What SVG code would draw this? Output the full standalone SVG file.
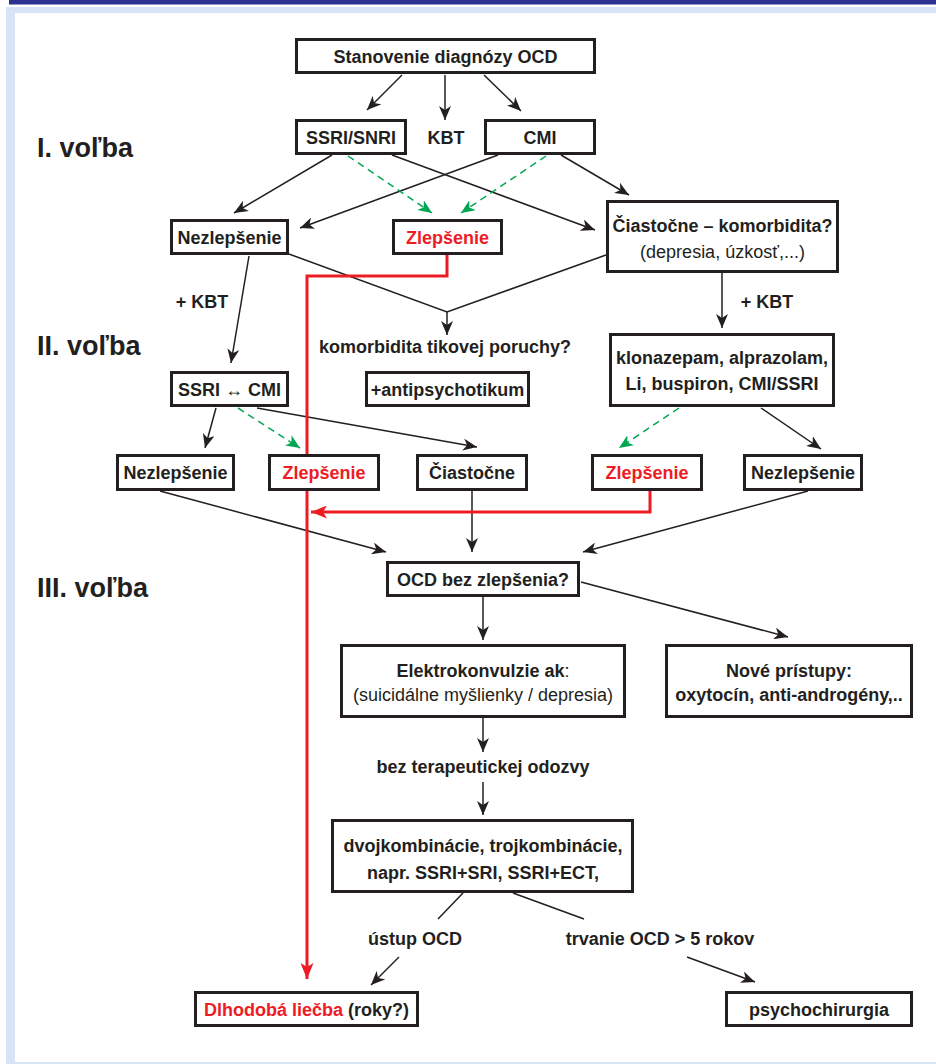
<svg xmlns="http://www.w3.org/2000/svg" width="936" height="1064" viewBox="0 0 936 1064">
<style>
.box{fill:#fff;stroke:#231f20;stroke-width:3}
.t{font-family:"Liberation Sans",Arial,sans-serif;font-size:18px;font-weight:bold;fill:#231f20;text-anchor:middle}
.rg{font-weight:normal}
.red{fill:#ed1c24}
.lvl{font-family:"Liberation Sans",Arial,sans-serif;font-size:27px;font-weight:bold;fill:#231f20}
.k{fill:none;stroke:#231f20;stroke-width:1.5}
.g{fill:none;stroke:#00a651;stroke-width:1.5;stroke-dasharray:7 5}
.r{fill:none;stroke:#ed1c24;stroke-width:3}
</style>
<defs>
<marker id="ak" markerUnits="userSpaceOnUse" markerWidth="15" markerHeight="12" refX="14" refY="6" orient="auto"><path d="M0,0 L14,6 L0,12 L4,6 Z" fill="#231f20"/></marker>
<marker id="ag" markerUnits="userSpaceOnUse" markerWidth="15" markerHeight="12" refX="14" refY="6" orient="auto"><path d="M0,0 L14,6 L0,12 L4,6 Z" fill="#00a651"/></marker>
<marker id="ar" markerUnits="userSpaceOnUse" markerWidth="17" markerHeight="13" refX="16" refY="6.5" orient="auto"><path d="M0,0 L16,6.5 L0,13 L4,6.5 Z" fill="#ed1c24"/></marker>
</defs>
<rect x="0" y="0" width="936" height="1064" fill="#fff"/>
<rect x="9" y="0" width="927" height="4.5" fill="#2e3192"/>
<rect x="6" y="7" width="930" height="1057" fill="#d6e4f5"/>
<rect x="15" y="13" width="921" height="1049" fill="#fff"/>

<text class="lvl" x="37" y="157">I. voľba</text>
<text class="lvl" x="37" y="355">II. voľba</text>
<text class="lvl" x="37" y="597">III. voľba</text>

<g id="connectors">
<line class="k" x1="402" y1="75" x2="367" y2="110" marker-end="url(#ak)"/>
<line class="k" x1="445" y1="75" x2="445" y2="120" marker-end="url(#ak)"/>
<line class="k" x1="484" y1="75" x2="521" y2="111" marker-end="url(#ak)"/>
<line class="k" x1="332" y1="155" x2="234" y2="213" marker-end="url(#ak)"/>
<line class="k" x1="498" y1="155" x2="300" y2="228" marker-end="url(#ak)"/>
<line class="k" x1="392" y1="155" x2="595" y2="230" marker-end="url(#ak)"/>
<line class="k" x1="561" y1="155" x2="629" y2="195" marker-end="url(#ak)"/>
<line class="g" x1="348" y1="156" x2="432" y2="213" marker-end="url(#ag)"/>
<line class="g" x1="546" y1="156" x2="461" y2="213" marker-end="url(#ag)"/>
<line class="k" x1="249" y1="256" x2="231" y2="363" marker-end="url(#ak)"/>
<line class="k" x1="722" y1="273" x2="722" y2="328" marker-end="url(#ak)"/>
<polyline class="k" points="289,254 447,312 606,255"/>
<line class="k" x1="447" y1="312" x2="447" y2="335" marker-end="url(#ak)"/>
<line class="k" x1="216" y1="408" x2="205" y2="448" marker-end="url(#ak)"/>
<line class="g" x1="238" y1="408" x2="300" y2="448" marker-end="url(#ag)"/>
<line class="k" x1="257" y1="408" x2="477" y2="447" marker-end="url(#ak)"/>
<line class="g" x1="679" y1="408" x2="619" y2="448" marker-end="url(#ag)"/>
<line class="k" x1="761" y1="408" x2="821" y2="449" marker-end="url(#ak)"/>
<line class="k" x1="160" y1="491" x2="386" y2="552" marker-end="url(#ak)"/>
<line class="k" x1="472" y1="491" x2="472" y2="552" marker-end="url(#ak)"/>
<line class="k" x1="808" y1="491" x2="583" y2="552" marker-end="url(#ak)"/>
<line class="k" x1="483" y1="597" x2="483" y2="640" marker-end="url(#ak)"/>
<line class="k" x1="581" y1="582" x2="788" y2="637" marker-end="url(#ak)"/>
<line class="k" x1="483" y1="718" x2="483" y2="752" marker-end="url(#ak)"/>
<line class="k" x1="483" y1="782" x2="483" y2="815" marker-end="url(#ak)"/>
<line class="k" x1="463" y1="893" x2="438" y2="919"/>
<line class="k" x1="513" y1="893" x2="584" y2="919"/>
<line class="k" x1="399" y1="957" x2="371" y2="985" marker-end="url(#ak)"/>
<line class="k" x1="687" y1="957" x2="755" y2="982" marker-end="url(#ak)"/>
<polyline class="r" points="447,255 447,276 307,276 307,979" marker-end="url(#ar)"/>
<polyline class="r" points="650,491 650,512 311,512" marker-end="url(#ar)"/>
</g>

<g id="n-diag"><rect class="box" x="296.5" y="39.5" width="298" height="33"/><text class="t" x="445.5" y="63">Stanovenie diagnózy OCD</text></g>
<g id="n-ssri"><rect class="box" x="296.5" y="120.5" width="109" height="33"/><text class="t" x="351" y="144">SSRI/SNRI</text></g>
<g id="n-kbt"><text class="t" x="446" y="144">KBT</text></g>
<g id="n-cmi"><rect class="box" x="485.5" y="120.5" width="109" height="33"/><text class="t" x="540" y="144">CMI</text></g>
<g id="n-nezl1"><rect class="box" x="171.5" y="220.5" width="116" height="33"/><text class="t" x="229.5" y="244">Nezlepšenie</text></g>
<g id="n-zl1"><rect class="box" x="393.5" y="220.5" width="108" height="33"/><text class="t red" x="447.5" y="244">Zlepšenie</text></g>
<g id="n-ciast1"><rect class="box" x="607.5" y="201.5" width="230" height="70"/><text class="t" x="722.5" y="232">Čiastočne – komorbidita?</text><text class="t rg" x="722.5" y="258">(depresia, úzkosť,...)</text></g>
<g id="n-kbt2"><text class="t" x="202" y="308">+ KBT</text></g>
<g id="n-kbt3"><text class="t" x="767" y="308">+ KBT</text></g>
<g id="n-tik"><text class="t" x="445" y="353">komorbidita tikovej poruchy?</text></g>
<g id="n-swap"><rect class="box" x="171.5" y="372.5" width="116" height="33"/><text class="t" x="229.5" y="396">SSRI ↔ CMI</text></g>
<g id="n-anti"><rect class="box" x="366.5" y="372.5" width="162" height="33"/><text class="t" x="447.5" y="396">+antipsychotikum</text></g>
<g id="n-klon"><rect class="box" x="610.5" y="334.5" width="223" height="71"/><text class="t" x="722" y="364">klonazepam, alprazolam,</text><text class="t" x="722" y="390">Li, buspiron, CMI/SSRI</text></g>
<g id="n-nezl2"><rect class="box" x="117.5" y="455.5" width="116" height="34"/><text class="t" x="175.5" y="479">Nezlepšenie</text></g>
<g id="n-zl2"><rect class="box" x="269.5" y="455.5" width="109" height="34"/><text class="t red" x="324" y="479">Zlepšenie</text></g>
<g id="n-ciast2"><rect class="box" x="417.5" y="455.5" width="109" height="34"/><text class="t" x="472" y="479">Čiastočne</text></g>
<g id="n-zl3"><rect class="box" x="592.5" y="455.5" width="109" height="34"/><text class="t red" x="647" y="479">Zlepšenie</text></g>
<g id="n-nezl3"><rect class="box" x="744.5" y="455.5" width="117" height="34"/><text class="t" x="803" y="479">Nezlepšenie</text></g>
<g id="n-ocd"><rect class="box" x="387.5" y="562.5" width="191" height="33"/><text class="t" x="483" y="586">OCD bez zlepšenia?</text></g>
<g id="n-ekt"><rect class="box" x="341.5" y="645.5" width="283" height="71"/><text class="t" x="483" y="677">Elektrokonvulzie ak<tspan class="rg">:</tspan></text><text class="t rg" x="483" y="701">(suicidálne myšlienky / depresia)</text></g>
<g id="n-nove"><rect class="box" x="666.5" y="645.5" width="245" height="71"/><text class="t" x="789" y="677">Nové prístupy:</text><text class="t" x="789" y="701">oxytocín, anti-androgény,..</text></g>
<g id="n-bez"><text class="t" x="483" y="773">bez terapeutickej odozvy</text></g>
<g id="n-dvoj"><rect class="box" x="332.5" y="820.5" width="300" height="71"/><text class="t" x="483" y="852">dvojkombinácie, trojkombinácie,</text><text class="t" x="483" y="879">napr. SSRI+SRI, SSRI+ECT,</text></g>
<g id="n-ustup"><text class="t" x="415" y="945">ústup OCD</text></g>
<g id="n-trv"><text class="t" x="660" y="945">trvanie OCD &gt; 5 rokov</text></g>
<g id="n-dlh"><rect class="box" x="195.5" y="992.5" width="222" height="33"/><text class="t" x="306.5" y="1016"><tspan class="red">Dlhodobá liečba</tspan> (roky?)</text></g>
<g id="n-psy"><rect class="box" x="726.5" y="992.5" width="185" height="33"/><text class="t" x="819" y="1016">psychochirurgia</text></g>
</svg>
